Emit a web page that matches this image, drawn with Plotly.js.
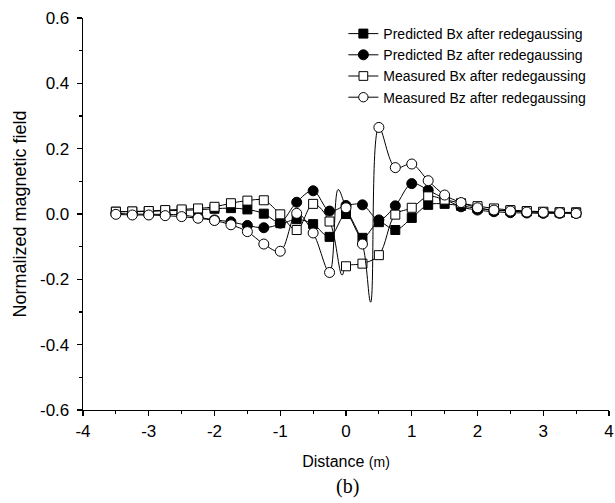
<!DOCTYPE html>
<html>
<head>
<meta charset="utf-8">
<script src="https://cdn.plot.ly/plotly-3.0.1.min.js"></script>
<style>
  html, body { margin: 0; padding: 0; background: #ffffff; }
  #chart { width: 615px; height: 503px; }
</style>
</head>
<body>
<div id="chart"></div>
<script>
// Distance positions (m) of the plotted markers
const distance = [-3.5, -3.25, -3, -2.75, -2.5, -2.25, -2, -1.75, -1.5, -1.25, -1, -0.75, -0.5, -0.25,
  0, 0.25, 0.5, 0.75, 1, 1.25, 1.5, 1.75, 2, 2.25, 2.5, 2.75, 3, 3.25, 3.5];

// Series values
const predictedBx = [0.007, 0.007, 0.008, 0.010, 0.011, 0.013, 0.016, 0.018, 0.014, 0.001, -0.028, -0.016, -0.031, -0.070,
  0.000, -0.073, -0.025, -0.049, -0.012, 0.028, 0.031, 0.025, 0.017, 0.012, 0.010, 0.008, 0.006, 0.005, 0.005];
const predictedBz = [0.002, 0.000, -0.001, -0.001, -0.003, -0.010, -0.018, -0.024, -0.035, -0.042, -0.028, 0.036, 0.071, 0.009,
  0.026, 0.028, -0.018, 0.025, 0.093, 0.073, 0.046, 0.022, 0.012, 0.007, 0.004, 0.003, 0.002, 0.002, 0.002];
const measuredBx = [0.007, 0.008, 0.009, 0.012, 0.014, 0.017, 0.022, 0.033, 0.041, 0.042, -0.001, -0.049, 0.031, -0.023,
  -0.160, -0.152, -0.126, -0.002, 0.019, 0.054, 0.044, 0.033, 0.024, 0.017, 0.012, 0.009, 0.007, 0.005, 0.004];
const measuredBz = [-0.001, -0.003, -0.003, -0.005, -0.008, -0.013, -0.020, -0.033, -0.054, -0.092, -0.114, 0.002, -0.058, -0.179,
  0.019, -0.092, 0.265, 0.142, 0.153, 0.102, 0.058, 0.035, 0.019, 0.012, 0.009, 0.006, 0.005, 0.004, 0.002];

// Unmarked turning points of the measured curves
const measuredBxCurveX = [-0.06];
const measuredBxCurveY = [-0.187];
const measuredBzCurveX = [-0.12, 0.375];
const measuredBzCurveY = [0.075, -0.27];

// Tick values and labels (plain hyphen minus, as in the figure)
const xTickVals = [-4, -3, -2, -1, 0, 1, 2, 3, 4];
const xTickText = ['-4', '-3', '-2', '-1', '0', '1', '2', '3', '4'];
const yTickVals = [-0.6, -0.4, -0.2, 0, 0.2, 0.4, 0.6];
const yTickText = ['-0.6', '-0.4', '-0.2', '0.0', '0.2', '0.4', '0.6'];

const seriesNames = [
  'Predicted Bx after redegaussing',
  'Predicted Bz after redegaussing',
  'Measured Bx after redegaussing',
  'Measured Bz after redegaussing'
];

function merge(xs, ys, ex, ey, size) {
  const pts = xs.map((v, i) => ({x: v, y: ys[i], s: size}));
  ex.forEach((v, i) => pts.push({x: v, y: ey[i], s: 0}));
  pts.sort((a, b) => a.x - b.x);
  return pts;
}

function makeTrace(name, ys, ex, ey, symbol, fill, size) {
  const pts = merge(distance, ys, ex, ey, size);
  return {
    type: 'scatter',
    mode: 'lines+markers',
    name: name,
    x: pts.map(p => p.x),
    y: pts.map(p => p.y),
    line: {color: '#000000', width: 1, shape: 'spline', smoothing: 1},
    marker: {
      symbol: symbol,
      size: pts.map(p => p.s),
      color: fill,
      opacity: 1,
      line: {color: '#000000', width: 1}
    },
    cliponaxis: false
  };
}

const traces = [
  makeTrace(seriesNames[0], predictedBx, [], [], 'square', '#000000', 9),
  makeTrace(seriesNames[1], predictedBz, [], [], 'circle', '#000000', 10),
  makeTrace(seriesNames[2], measuredBx, measuredBxCurveX, measuredBxCurveY, 'square', '#ffffff', 9),
  makeTrace(seriesNames[3], measuredBz, measuredBzCurveX, measuredBzCurveY, 'circle', '#ffffff', 10)
];

const tickFont = {family: 'Liberation Sans, Arial, sans-serif', size: 17, color: '#000000'};

const layout = {
  width: 615,
  height: 503,
  margin: {l: 83, r: 6, t: 18, b: 93},
  paper_bgcolor: '#ffffff',
  plot_bgcolor: '#ffffff',
  showlegend: true,
  legend: {
    x: 0.495, y: 1.0, xanchor: 'left', yanchor: 'top',
    bgcolor: 'rgba(0,0,0,0)', borderwidth: 0,
    font: {family: 'Liberation Sans, Arial, sans-serif', size: 14, color: '#000000'},
    tracegroupgap: 0
  },
  xaxis: {
    range: [-4, 4],
    tickmode: 'array',
    tickvals: xTickVals,
    ticktext: xTickText,
    showgrid: false,
    zeroline: false,
    showline: true,
    linecolor: '#000000',
    linewidth: 1.3,
    ticks: 'outside',
    ticklen: 5,
    tickwidth: 1.2,
    tickcolor: '#000000',
    tickfont: tickFont,
    minor: {dtick: 0.5, tick0: -4, ticks: 'outside', ticklen: 3, tickwidth: 1.2, tickcolor: '#000000', showgrid: false},
    title: {
      text: 'Distance <span style="font-size:14px">(m)</span>',
      font: {family: 'Liberation Sans, Arial, sans-serif', size: 16, color: '#000000'},
      standoff: 16
    }
  },
  yaxis: {
    range: [-0.6, 0.6],
    tickmode: 'array',
    tickvals: yTickVals,
    ticktext: yTickText,
    showgrid: false,
    zeroline: false,
    showline: true,
    linecolor: '#000000',
    linewidth: 1.3,
    ticks: 'outside',
    ticklen: 5,
    tickwidth: 1.2,
    tickcolor: '#000000',
    tickfont: tickFont,
    ticklabelstandoff: 4,
    minor: {dtick: 0.1, tick0: -0.6, ticks: 'outside', ticklen: 3, tickwidth: 1.2, tickcolor: '#000000', showgrid: false},
    title: {
      text: 'Normalized magnetic field',
      font: {family: 'Liberation Sans, Arial, sans-serif', size: 18, color: '#000000'},
      standoff: 8
    }
  },
  annotations: [{
    text: '(b)',
    xref: 'paper', yref: 'paper',
    x: 0.502, y: -0.196,
    xanchor: 'center', yanchor: 'middle',
    showarrow: false,
    font: {family: 'Liberation Serif, Times New Roman, serif', size: 20, color: '#000000'}
  }]
};

Plotly.newPlot('chart', traces, layout, {displayModeBar: false, staticPlot: true});
</script>
</body>
</html>
